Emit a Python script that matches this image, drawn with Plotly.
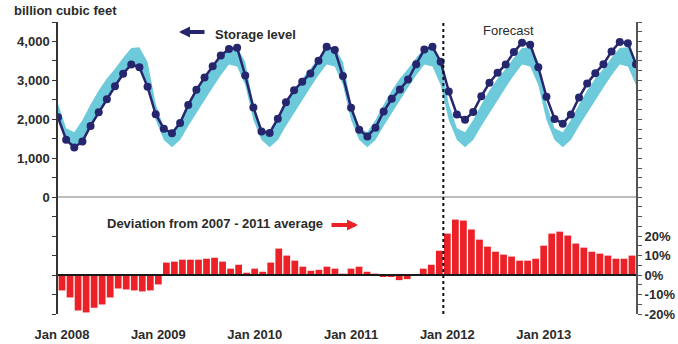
import plotly.graph_objects as go

# Monthly categories, Jan 2008 .. Dec 2013
years = [2008, 2009, 2010, 2011, 2012, 2013]
month_names = ["Jan", "Feb", "Mar", "Apr", "May", "Jun",
               "Jul", "Aug", "Sep", "Oct", "Nov", "Dec"]
months = [f"{m} {y}" for y in years for m in month_names]

# Working gas in storage, billion cubic feet (end of month)
storage = [
    2052, 1477, 1278, 1433, 1830, 2180, 2515, 2850, 3170, 3410, 3340, 2835,
    2130, 1760, 1640, 1907, 2370, 2757, 3075, 3366, 3642, 3804, 3840, 3126,
    2305, 1690, 1650, 2018, 2440, 2747, 2963, 3178, 3505, 3866, 3778, 3115,
    2300, 1735, 1562, 1786, 2198, 2526, 2765, 3023, 3418, 3796, 3866, 3479,
    2718, 2121, 1992, 2190, 2593, 2938, 3196, 3410, 3727, 3969, 3918, 3340,
    2577, 2010, 1889, 2121, 2559, 2920, 3186, 3418, 3745, 3985, 3951, 3418,
]

# 2007-2011 range for each calendar month (billion cubic feet)
range_high = [2400, 1770, 1670, 1980, 2380, 2740, 3050, 3300, 3580, 3830, 3850, 3470]
range_low = [1980, 1470, 1285, 1470, 1830, 2170, 2500, 2820, 3130, 3410, 3360, 2880]

# Deviation from the 2007 - 2011 average, percent
deviation = [
    -7.9, -11.5, -18.2, -19.2, -16.8, -15.1, -11.5, -6.9, -7.4, -7.9, -8.4, -7.9,
    -4.8, 6.4, 6.9, 7.9, 7.9, 7.9, 8.4, 8.9, 6.9, 3.3, 5.3, 1.2,
    3.3, 1.7, 6.4, 13.6, 10.0, 7.4, 4.3, 2.2, 2.7, 4.3, 3.3, 0.7,
    3.3, 4.3, 1.7, 0.7, -0.5, -1.0, -2.6, -2.1, 0.0, 3.3, 5.3, 12.5,
    21.3, 28.5, 28.0, 23.4, 18.2, 14.6, 12.0, 10.5, 9.5, 7.4, 7.4, 8.4,
    15.1, 21.3, 22.3, 20.3, 16.2, 14.1, 12.0, 11.0, 10.0, 8.4, 8.4, 10.0,
]

forecast_start = "Jan 2012"

left_ticks = list(range(-3000, 4501, 500))
left_text = [f"{v:,}" if 0 <= v <= 4000 and v % 1000 == 0 else "" for v in left_ticks]
right_min, right_max = -20, 130
right_ticks = list(range(right_min, right_max + 1, 5))
right_text = [f"{v}%" if v in (-20, -10, 0, 10, 20) else "" for v in right_ticks]
month_text = [m if m.startswith("Jan") else "" for m in months]

NAVY = "#26266f"
CYAN = "#6dcadb"
RED = "#ec2027"
TXT = "#2b2b2b"
FONT = "Arial, Liberation Sans, sans-serif"

fig = go.Figure()

# 2007-2011 range band
fig.add_trace(go.Scatter(
    x=months, y=range_low * len(years), xaxis="x2", yaxis="y",
    mode="lines", line=dict(width=0, color=CYAN), hoverinfo="skip",
))
fig.add_trace(go.Scatter(
    x=months, y=range_high * len(years), xaxis="x2", yaxis="y",
    mode="lines", line=dict(width=0, color=CYAN), fill="tonexty",
    fillcolor=CYAN, hoverinfo="skip",
))
# Storage level
fig.add_trace(go.Scatter(
    x=months, y=storage, xaxis="x2", yaxis="y",
    mode="lines+markers", line=dict(color=NAVY, width=2.5),
    marker=dict(color=NAVY, size=8),
))
# Deviation bars
fig.add_trace(go.Bar(
    x=months, y=deviation, xaxis="x", yaxis="y2",
    marker=dict(color=RED, line=dict(width=0)),
))

fc = months.index(forecast_start) - 0.5
# fraction of plot height where the 0% line of the right axis sits
zero_pos = (0 - right_min) / (right_max - right_min)

fig.update_layout(
    width=678, height=344,
    margin=dict(l=58, r=42, t=22, b=30),
    paper_bgcolor="white", plot_bgcolor="rgba(0,0,0,0)",
    showlegend=False, bargap=0.16,
    font=dict(family=FONT, color=TXT),
    # month axis of the deviation bars, placed on their 0% line
    xaxis=dict(
        type="category", categoryorder="array", categoryarray=months,
        range=[-0.5, len(months) - 0.5],
        anchor="free", position=zero_pos, automargin=False,
        showline=True, linecolor="#1a1a1a", linewidth=1.5,
        ticks="", tickmode="array", tickvals=months, ticktext=month_text,
        tickfont=dict(size=13, weight="bold", color=TXT),
        ticklabelstandoff=48,
        showgrid=False, zeroline=False, tickangle=0,
    ),
    xaxis2=dict(
        type="category", categoryorder="array", categoryarray=months,
        range=[0, len(months) - 1], overlaying="x", anchor="y",
        visible=False, automargin=False,
    ),
    yaxis=dict(
        range=[-3000, 4500], side="left", anchor="x", automargin=False,
        tickmode="array", tickvals=left_ticks, ticktext=left_text,
        ticks="outside", ticklen=4, tickcolor="#333",
        showline=True, linecolor="#333", linewidth=1.5,
        tickfont=dict(size=13, weight="bold", color=TXT),
        showgrid=False, zeroline=True, zerolinecolor="#bdbdbd", zerolinewidth=1.5,
    ),
    yaxis2=dict(
        range=[right_min, right_max], side="right", overlaying="y", anchor="x",
        automargin=False,
        tickmode="array", tickvals=right_ticks, ticktext=right_text,
        ticks="outside", ticklen=4, tickcolor="#555",
        showline=True, linecolor="#555", linewidth=2,
        tickfont=dict(size=13, weight="bold", color=TXT),
        showgrid=False,
        zeroline=True, zerolinecolor="#1a1a1a", zerolinewidth=1.5,
    ),
    shapes=[dict(
        type="line", xref="x", yref="paper", x0=fc, x1=fc, y0=0, y1=1,
        line=dict(color="#111", width=2, dash="dot"),
    )],
)

W, H = 578, 292
def px(x):
    return (x - 58) / W
def py(y):
    return (314 - y) / H

fig.add_annotation(text="billion cubic feet", xref="paper", yref="paper",
                   x=px(12), y=py(11), xanchor="left", yanchor="middle",
                   showarrow=False, font=dict(size=13, weight="bold", color=TXT))
fig.add_annotation(text="Storage level", xref="paper", yref="paper",
                   x=px(213), y=py(35), xanchor="left", yanchor="middle",
                   showarrow=False, font=dict(size=13, weight="bold", color=TXT))
fig.add_annotation(text="", xref="paper", yref="paper", x=px(179), y=py(32),
                   ax=27, ay=0, showarrow=True, arrowhead=2, arrowsize=0.55,
                   arrowwidth=4, arrowcolor=NAVY)
fig.add_annotation(text="Forecast", xref="paper", yref="paper",
                   x=px(481), y=py(30), xanchor="left", yanchor="middle",
                   showarrow=False, font=dict(size=13, color=TXT))
fig.add_annotation(text="Deviation from 2007 - 2011 average", xref="paper", yref="paper",
                   x=px(105), y=py(223), xanchor="left", yanchor="middle",
                   showarrow=False, font=dict(size=13, weight="bold", color=TXT))
fig.add_annotation(text="", xref="paper", yref="paper", x=px(358), y=py(225),
                   ax=-28, ay=0, showarrow=True, arrowhead=2, arrowsize=0.55,
                   arrowwidth=4, arrowcolor=RED)

fig.write_html("out.html")
